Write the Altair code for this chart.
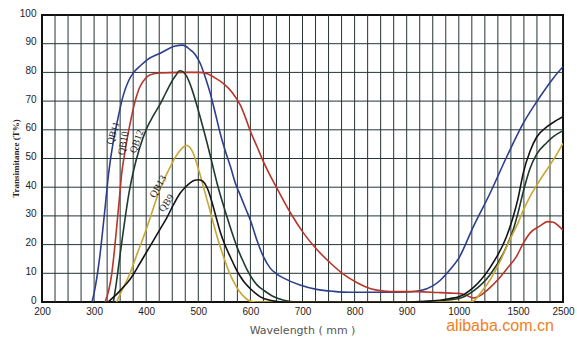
import altair as alt
import pandas as pd

# ---- data ----
wl_QB11 = [296, 303, 311, 320, 328, 336, 344, 356, 366, 376, 390, 401, 427, 456, 470, 485, 495, 504, 514, 523, 533, 542, 552, 562, 571, 581, 591, 600, 612, 625, 638, 650, 663, 695, 727, 760, 790, 856, 900, 925, 950, 964, 983, 1000, 1122, 1264, 1405, 1618, 1989, 2284, 2500]
t_QB11 = [0, 6, 16, 31, 45, 55, 62.5, 72, 77, 80, 82.5, 84.3, 86.7, 89.2, 89.5, 87.8, 86, 83, 78, 72.7, 65.5, 58.8, 52.5, 47, 41.5, 37, 32.5, 28.5, 21.8, 15.8, 11.8, 9.8, 8.4, 5.9, 4.4, 3.7, 3.4, 3.4, 3.5, 3.9, 5.6, 7.5, 11.2, 15.3, 26.2, 37.9, 50.6, 62.3, 71.5, 78, 82]

wl_QB10 = [321, 328, 334, 339, 344, 349, 353, 358, 363, 370, 376, 382, 388, 398, 408, 427, 470, 500, 517, 533, 549, 565, 581, 590, 600, 613, 626, 651, 677, 702, 728, 754, 779, 805, 831, 856, 880, 920, 960, 985, 1000, 1060, 1122, 1190, 1264, 1335, 1405, 1489, 1618, 1767, 1989, 2150, 2284, 2400, 2500]
t_QB10 = [0, 4, 10, 18, 27.4, 37, 44.8, 51, 56.4, 63, 68, 72, 75, 77.8, 79.2, 79.8, 80, 80, 79.5, 78, 76, 73, 68.5, 64.5, 59.5, 54, 48.5, 39.6, 31, 24, 18.2, 13.5, 9.6, 6.7, 4.6, 3.8, 3.6, 3.6, 3.3, 3.1, 3.0, 2.4, 1.4, 2.5, 5, 8, 11.5, 16, 20.5, 24, 26.5, 28, 27.8, 26.5, 25]

wl_QB12 = [337, 343, 348, 354, 359, 367, 376, 388, 401, 414, 427, 438, 449, 457, 464, 471, 478, 488, 498, 508, 517, 527, 536, 546, 555, 565, 574, 584, 594, 604, 614, 626, 645, 664, 690, 900, 964, 983, 1000, 1122, 1264, 1405, 1458, 1500, 1618, 1767, 1916, 2138, 2284, 2500]
t_QB12 = [0, 7, 14, 22, 28.5, 38, 46, 54, 60.5, 65, 69, 73, 76.8, 79, 80.6, 80.2, 78.5, 74, 68, 61.5, 55.3, 48, 41.4, 35, 29.7, 24, 19.3, 15, 11.1, 8, 5.7, 4, 1.8, 0.6, 0, 0, 0.4, 0.8, 1.2, 3.8, 9.5, 19.5, 25, 31, 38.5, 46.5, 51.5, 55.5, 57.6, 59.7]

wl_QB13 = [343, 356, 369, 382, 395, 408, 421, 434, 446, 456, 465, 471, 477, 484, 491, 500, 510, 520, 529, 539, 549, 558, 568, 577, 587, 597, 610, 1100, 1122, 1190, 1264, 1335, 1405, 1458, 1500, 1618, 1767, 1989, 2284, 2500]
t_QB13 = [0, 5, 10, 16.5, 22.7, 29.5, 36.7, 42.5, 47, 50.5, 52.8, 54, 54.6, 53.8, 51.5, 46.5, 40, 33.5, 27.4, 21, 15.5, 11, 7, 4.2, 2, 0.5, 0, 0, 0.3, 3.5, 7.7, 13, 19.3, 24, 27.5, 32, 36.7, 42.5, 49.5, 55.3]

wl_QB9 = [327, 336, 345, 354, 363, 375, 388, 401, 414, 427, 440, 452, 465, 475, 485, 493, 501, 509, 517, 523, 529, 535, 542, 552, 562, 571, 581, 590, 600, 610, 619, 640, 664, 900, 964, 983, 1000, 1122, 1264, 1405, 1458, 1500, 1618, 1767, 1916, 2138, 2284, 2500]
t_QB9 = [0, 1.5, 3, 4.8, 6.5, 9.5, 13.5, 17.5, 21.5, 25.5, 29.5, 33.8, 37.9, 40, 41.6, 42.4, 42.6, 42, 39.8, 36.8, 33, 29, 24.5, 19.5, 15.5, 12, 8.8, 6.5, 4.6, 3, 1.8, 0.5, 0, 0, 0.6, 1.2, 1.8, 5, 12, 23, 29.5, 36, 45, 52.5, 57.5, 61, 62.6, 64.6]

series_names = ["QB11", "QB10", "QB12", "QB13", "QB9"]
series_colors = ["#2c3f8c", "#b8352a", "#1f3a2c", "#c9a634", "#141414"]

label_text = ["QB11", "QB10", "QB12", "QB13", "QB9"]
label_wl = [337, 356, 382, 423, 439]
label_t = [58.8, 55.3, 55.9, 40.2, 34.4]
label_angle = [288, 280, 290, 300, 305]

x_label_values = [200, 300, 400, 500, 600, 700, 800, 900, 1000, 1500, 2500]
x_grid_values = list(range(225, 1001, 25)) + [1110, 1220, 1330, 1440, 1631, 1921, 2211]
y_grid_values = [10, 20, 30, 40, 50, 60, 70, 80, 90]
y_label_values = [0, 10, 20, 30, 40, 50, 60, 70, 80, 90, 100]

# ---- build tables ----
rows = []
for name, w, t in [("QB11", wl_QB11, t_QB11), ("QB10", wl_QB10, t_QB10),
                   ("QB12", wl_QB12, t_QB12), ("QB13", wl_QB13, t_QB13),
                   ("QB9", wl_QB9, t_QB9)]:
    for a, b in zip(w, t):
        rows.append({"series": name, "wl": a, "T": b})
df = pd.DataFrame(rows)
labels_df = pd.DataFrame({"text": label_text, "wl": label_wl, "T": label_t, "angle": label_angle})
gx = pd.DataFrame({"wl": x_grid_values})
gy = pd.DataFrame({"T": y_grid_values})

W, H = 521, 287
xscale = alt.Scale(domain=[200, 1000, 1500, 2500], range=[0, 416.8, 476, W], nice=False, zero=False)
yscale = alt.Scale(domain=[0, 100], nice=False)

xaxis = alt.Axis(values=x_label_values, format="d", title="Wavelength ( mm )", grid=False,
                 ticks=False, domain=False, labelFont="Liberation Sans",
                 labelFontSize=10, labelColor="#222", labelPadding=4,
                 labelFlush=False, labelOverlap=False,
                 titleFont="DejaVu Sans", titleFontSize=11, titleFontWeight="normal",
                 titleColor="#555", titleX=260, titleY=28, titleBaseline="middle")
yaxis = alt.Axis(values=y_label_values, format="d", title="Transimitance (T%)",
                 grid=False, ticks=False, domain=False, labelFont="Liberation Sans",
                 labelFontSize=10, labelColor="#222", labelPadding=6, labelOffset=-2,
                 labelFlush=False, labelOverlap=False,
                 titleFont="Liberation Serif", titleFontSize=9, titleFontWeight="bold",
                 titleColor="#222", titleAngle=270, titleX=-27, titleY=143,
                 titleAlign="center", titleBaseline="middle")

def X(field="wl:Q"):
    return alt.X(field, scale=xscale, axis=xaxis, title="Wavelength ( mm )")

def Y(field="T:Q"):
    return alt.Y(field, scale=yscale, axis=yaxis, title="Transimitance (T%)")

grid_col = "#253535"

vgrid = alt.Chart(gx).mark_rule(color=grid_col, strokeWidth=1).encode(x=X())
hgrid = alt.Chart(gy).mark_rule(color=grid_col, strokeWidth=1).encode(y=Y())

lines = alt.Chart(df).mark_line(strokeWidth=1.6, interpolate="monotone", clip=True).encode(
    x=X(), y=Y(),
    color=alt.Color("series:N", scale=alt.Scale(domain=series_names, range=series_colors), legend=None),
    detail="series:N",
)

curve_labels = alt.Chart(labels_df).mark_text(font="Liberation Serif", fontSize=10, color="#1a1a1a",
                                               align="center", baseline="middle").encode(
    x=X(), y=Y(),
    text="text:N",
    angle=alt.Angle("angle:Q", scale=None),
)

watermark = alt.Chart(pd.DataFrame({"t": ["alibaba.com.cn"]})).mark_text(
    font="Liberation Sans", fontSize=16, color="#f0801e", align="center", baseline="middle"
).encode(x=alt.value(458), y=alt.value(311), text="t:N")

chart = alt.layer(vgrid, hgrid, lines, curve_labels, watermark).properties(
    width=W, height=H,
    padding={"left": 42, "top": 15, "right": 14, "bottom": 47},
    autosize="none",
    background="white",
).configure_view(stroke="#111", strokeWidth=2)

chart.save("out.html", embed_options={"renderer": "svg", "actions": False})
